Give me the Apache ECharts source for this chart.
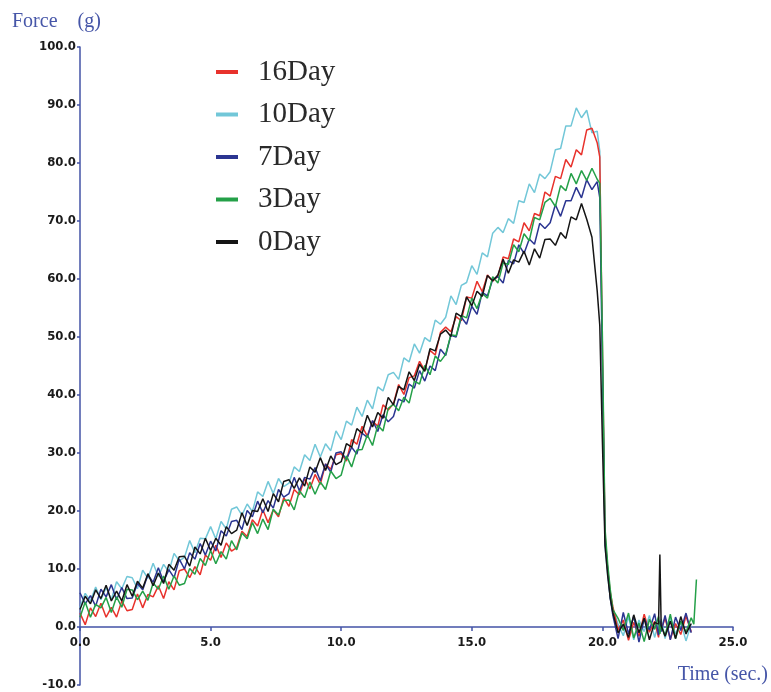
<!DOCTYPE html>
<html>
<head>
<meta charset="utf-8">
<script src="https://cdn.jsdelivr.net/npm/echarts@6/dist/echarts.min.js"></script>
<style>
html,body{margin:0;padding:0;background:#fff;}
#chart{width:771px;height:692px;}
</style>
</head>
<body>
<div id="chart"></div>
<script>
// time (s) shared by all series
const times = [
0,0.2,0.4,0.6,0.8,1,1.2,1.4,1.6,1.8,
2,2.2,2.4,2.6,2.8,3,3.2,3.4,3.6,3.8,
4,4.2,4.4,4.6,4.8,5,5.2,5.4,5.6,5.8,
6,6.2,6.4,6.6,6.8,7,7.2,7.4,7.6,7.8,
8,8.2,8.4,8.6,8.8,9,9.2,9.4,9.6,9.8,
10,10.2,10.4,10.6,10.8,11,11.2,11.4,11.6,11.8,
12,12.2,12.4,12.6,12.8,13,13.2,13.4,13.6,13.8,
14,14.2,14.4,14.6,14.8,15,15.2,15.4,15.6,15.8,
16,16.2,16.4,16.6,16.8,17,17.2,17.4,17.6,17.8,
18,18.2,18.4,18.6,18.8,19,19.2,19.4,19.6,19.8,
19.9,20,20.1,20.2,20.3,20.4,20.6,
20.8,21,21.2,21.4,21.6,21.8,22,
22.15,22.2,22.25,
22.4,22.6,22.8,23,23.2,23.4,
23.5,23.6];

const day10 = [
3.3,5.8,4.5,6.9,4.7,6.8,4.7,7.8,6.6,8.7,
8.5,6.6,9.8,8.4,11.0,8.7,10.8,9.5,12.7,11.4,
12.0,14.9,12.8,15.3,15.2,17.3,15.2,18.2,16.9,20.3,
20.7,19.3,21.2,19.9,23.3,22.5,25.1,23.0,25.6,24.2,
24.8,27.6,26.8,29.7,28.7,31.5,29.3,31.6,30.4,33.8,
32.3,35.5,34.8,37.9,36.3,39.1,37.6,41.4,40.7,43.5,
43.9,42.7,46.4,45.7,48.8,47.2,49.9,49.2,52.9,52.2,
53.4,57.1,55.6,58.9,59.4,62.3,60.8,64.5,63.8,67.9,
68.9,68.0,70.4,69.6,73.5,73.2,76.4,74.9,78.1,77.3,
78.5,82.3,82.5,86.4,86.4,89.5,87.8,89.1,85.2,85.5,
82,45,14,9,5,3,0.5,
-1.5,1.8,-2.2,1.2,-0.8,2.0,-1.8,
0.6,-1.0,1.4,
-2.0,1.5,-1.2,0.8,-2.4,0.5,
null,null];

const day16 = [
2.4,0.4,3.3,1.8,4.1,1.7,3.4,1.7,4.5,2.8,
3.0,5.7,3.3,5.6,5.2,7.1,4.9,7.8,6.4,9.7,
10.0,8.5,10.4,9.0,12.4,11.5,14.1,12.0,14.5,13.1,
13.7,16.5,15.6,18.5,17.4,20.2,18.0,20.2,19.0,22.3,
20.8,23.7,22.8,25.6,23.8,26.3,24.6,28.1,27.2,29.7,
29.9,28.6,32.3,31.5,34.6,32.9,35.5,34.6,38.3,37.4,
38.5,41.8,40.1,43.0,43.3,45.8,44.2,47.7,46.9,50.8,
51.7,50.9,53.5,52.8,56.9,56.7,59.6,57.8,60.7,59.6,
60.5,63.8,63.5,66.9,66.4,69.7,68.3,71.3,70.9,75.0,
74.3,77.7,77.3,80.6,79.3,82.3,81.4,85.7,86.0,83.5,
81,48,16,10,6,3.5,-0.5,
1.2,-2.3,0.8,-1.6,2.2,-0.9,1.0,
-1.8,0.9,-0.5,
1.6,-2.1,0.6,-1.3,1.9,-0.8,
null,null];

const day3 = [
1.7,4.3,1.7,3.9,3.3,5.1,2.5,5.2,3.4,6.5,
6.4,4.7,6.2,4.6,7.6,6.5,8.8,6.5,8.8,7.2,
7.5,10.1,9.1,11.8,10.6,13.2,10.9,13.0,11.7,14.9,
13.3,16.2,15.2,18.0,16.1,18.6,16.8,20.3,19.3,21.8,
21.9,20.2,23.5,22.3,25.0,22.9,25.0,23.7,26.9,25.6,
26.2,29.5,27.6,30.5,30.6,33.1,31.3,34.8,33.8,37.7,
38.4,37.3,39.6,38.6,42.4,41.9,45.1,43.5,46.7,45.8,
47.0,50.4,50.2,53.7,53.3,56.7,54.9,57.5,56.7,60.4,
59.3,62.8,62.5,65.9,64.7,67.8,66.6,70.6,70.2,73.2,
73.9,72.5,76.1,75.2,78.2,76.4,78.7,77.0,79.1,77.2,
76.5,50,17,11,6.5,3,1.5,
-0.6,2.4,-1.9,0.7,-2.5,1.3,-0.4,
1.8,-1.2,0.3,
-1.5,2.2,-2.0,1.0,-0.9,1.6,
0.5,8.2];

const day7 = [
5.9,4.0,5.4,3.6,6.5,5.2,7.3,4.7,6.8,4.9,
5.0,7.5,6.4,9.0,7.7,10.2,7.8,9.9,8.5,11.7,
10.0,12.8,11.7,14.4,12.4,14.8,13.1,16.6,15.7,18.2,
18.4,16.8,20.1,19.0,21.7,19.7,21.8,20.5,23.7,22.4,
23.0,25.8,23.5,25.8,25.5,27.5,25.2,28.1,26.7,30.0,
30.2,28.9,31.0,29.8,33.4,32.7,35.6,33.7,36.6,35.4,
36.3,39.3,38.8,41.9,41.2,44.2,42.4,45.0,44.2,47.9,
46.8,50.3,50.0,53.4,52.2,55.3,53.9,57.7,57.1,59.9,
60.4,59.3,63.2,62.6,65.9,64.4,66.9,66.0,69.6,68.7,
69.7,72.8,70.8,73.5,73.5,75.8,74.0,77.1,75.4,76.8,
74,45,15,10,5,2,-2.0,
2.5,-1.2,1.9,-2.6,1.4,-0.5,2.3,
-1.4,1.1,-0.8,
2.0,-2.2,1.7,-0.6,2.4,-1.0,
null,null];

const day0 = [
3.0,5.3,4.0,6.4,4.9,7.2,4.5,6.2,4.5,7.3,
5.3,7.9,6.7,9.2,7.1,9.3,7.5,10.8,9.8,12.1,
12.2,10.5,13.8,12.6,15.3,13.2,15.3,14.1,17.3,16.1,
16.7,19.7,17.5,20.1,19.9,22.1,19.9,23.0,21.6,25.1,
25.4,23.9,25.7,24.3,27.6,26.7,29.2,27.0,29.5,28.0,
28.5,31.6,31.0,34.2,33.4,36.5,34.5,37.0,36.0,39.6,
38.3,41.5,40.9,44.0,42.5,45.3,44.1,48.0,47.6,50.5,
51.2,50.1,54.1,53.5,56.9,55.4,57.9,57.0,60.6,59.7,
60.7,63.4,61.0,63.3,62.9,64.8,62.4,65.2,63.6,66.8,
66.9,65.8,68.0,67.0,70.7,70.2,73.0,70.3,67.2,58.0,
52,32,14,9,5,2.5,-1.0,
0.5,-1.8,2.1,-1.0,1.5,-2.2,0.8,
0.5,12.5,0.2,
-1.6,1.0,-2.0,1.8,-1.2,0.6,
null,null];

const legendOrder = ['16Day','10Day','7Day','3Day','0Day'];
const yAxisName = 'Force    (g)';
const xAxisName = 'Time (sec.)';
const yMin = -10, yMax = 100, yStep = 10;
const xMin = 0, xMax = 25, xStep = 5;

const seriesDefs = [
  {name:'10Day', values:day10, color:'#72c7d8'},
  {name:'16Day', values:day16, color:'#e8322c'},
  {name:'7Day',  values:day7,  color:'#2b3591'},
  {name:'3Day',  values:day3,  color:'#24a048'},
  {name:'0Day',  values:day0,  color:'#151515'}
];

const axisBlue = '#4353a6';
const tickFont = "'Liberation Sans Narrow','DejaVu Sans Condensed','DejaVu Sans',sans-serif";

const W = 771, H = 692;
const gridTop = 47, gridBottom = 7;
const plotH = H - gridTop - gridBottom;
// x axis sits on y = 0: offset from grid bottom
const xAxisOffset = -plotH * (0 - yMin) / (yMax - yMin);

const chart = echarts.init(document.getElementById('chart'), null, {renderer:'canvas'});
chart.setOption({
  animation:false,
  backgroundColor:'#ffffff',
  grid:{left:80, right:38, top:gridTop, bottom:gridBottom, containLabel:false, outerBoundsMode:'none'},
  legend:{
    data:legendOrder,
    orient:'vertical',
    left:211, top:51,
    itemWidth:22, itemHeight:4, itemGap:10.5,
    icon:'rect',
    textStyle:{fontFamily:"'Liberation Serif','Times New Roman',serif", fontSize:29, color:'#2a2a2a', lineHeight:32, padding:[0,0,0,15]}
  },
  xAxis:{
    type:'value', min:xMin, max:xMax, interval:xStep,
    position:'bottom', offset:xAxisOffset,
    axisLine:{onZero:false, lineStyle:{color:axisBlue, width:1.5}},
    axisTick:{show:true, inside:false, length:4, lineStyle:{color:axisBlue, width:1.5}},
    axisLabel:{margin:9, formatter:v=>v.toFixed(1), fontFamily:tickFont, fontWeight:'bold', fontSize:13, color:'#1a1a1a'},
    splitLine:{show:false}
  },
  yAxis:{
    type:'value', min:yMin, max:yMax, interval:yStep,
    axisLine:{show:true, lineStyle:{color:axisBlue, width:1.5}},
    axisTick:{show:true, inside:false, length:3, lineStyle:{color:axisBlue, width:1.5}},
    axisLabel:{margin:4, formatter:v=>v.toFixed(1), fontFamily:tickFont, fontWeight:'bold', fontSize:13, color:'#1a1a1a'},
    splitLine:{show:false}
  },
  graphic:[
    {type:'text', left:12, top:12, style:{text:yAxisName, fill:'#4656a8', font:"20px 'Liberation Serif', serif"}},
    {type:'text', right:3, top:665, style:{text:xAxisName, fill:'#4656a8', font:"20px 'Liberation Serif', serif"}}
  ],
  series: seriesDefs.map(s => ({
    name:s.name, type:'line', showSymbol:false, symbol:'none',
    data: times.map((t,i)=>[t, s.values[i]]),
    connectNulls:false,
    lineStyle:{color:s.color, width:1.5},
    itemStyle:{color:s.color},
    z: 2
  }))
});
</script>
</body>
</html>
